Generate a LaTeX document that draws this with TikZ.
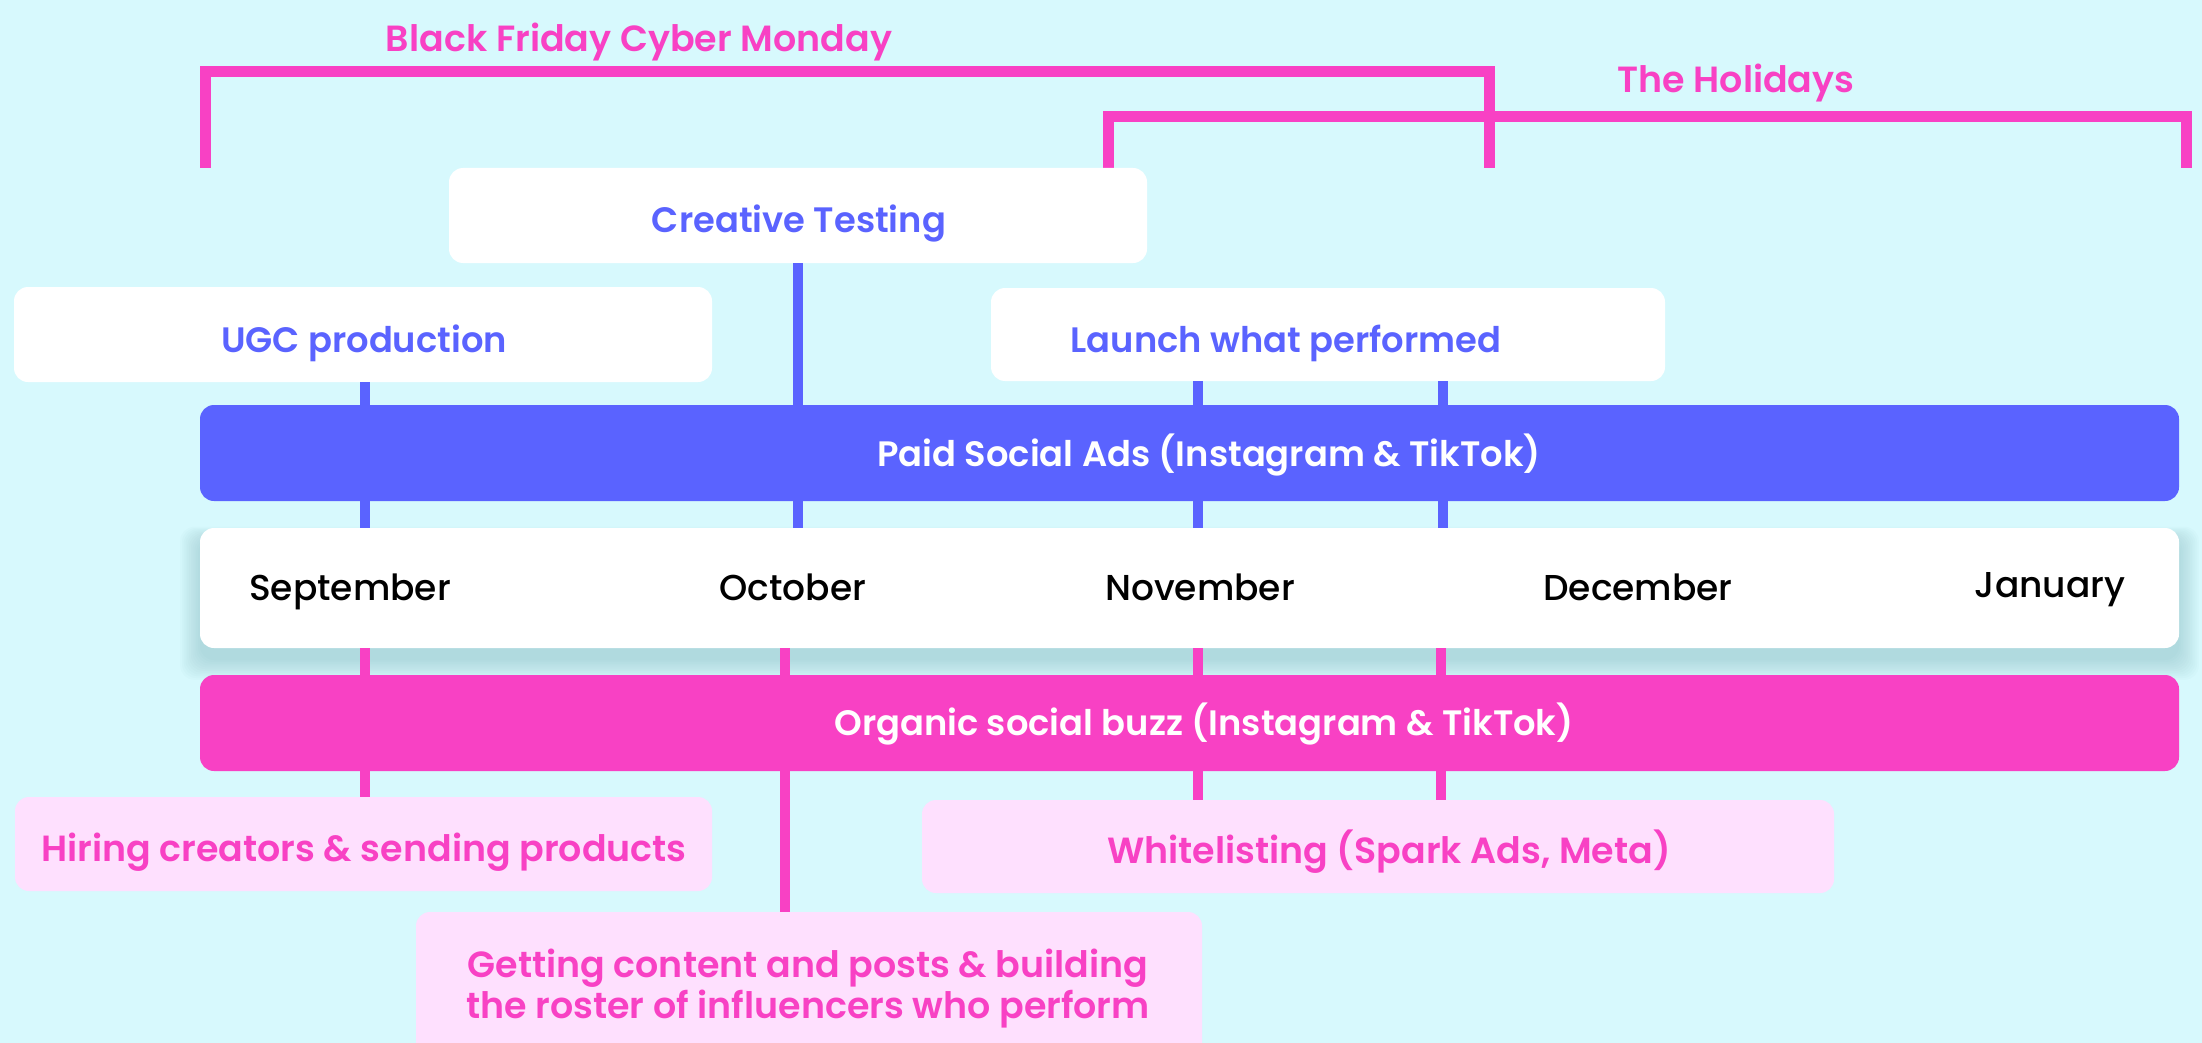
\documentclass[tikz,border=0pt]{standalone}
\usepackage{fontspec}
\setmainfont{Poppins}
\newfontfamily\medfont{Poppins Medium}
\newfontfamily\semifont{Poppins SemiBold}
\usetikzlibrary{calc}
\definecolor{bgcyan}{HTML}{D7F9FD}
\definecolor{brandblue}{HTML}{5A63FF}
\definecolor{brandpink}{HTML}{F841C4}
\definecolor{softpink}{HTML}{FEE0FE}
\definecolor{shadowteal}{HTML}{5E9DA3}
\begin{document}
\begin{tikzpicture}[x=1pt,y=-1pt,
  box/.style={rounded corners=14pt, inner sep=0pt},
  whitebox/.style={box, fill=white},
  pinkbox/.style={box, fill=softpink},
  bluebar/.style={box, fill=brandblue},
  pinkbar/.style={box, fill=brandpink},
  lbl/.style={anchor=base, inner sep=0pt, font=\semifont\fontsize{35.3}{42}\selectfont},
  bluetxt/.style={lbl, text=brandblue},
  pinktxt/.style={lbl, text=brandpink, font=\semifont\fontsize{36.4}{42}\selectfont},
  whitetxt/.style={lbl, text=white},
  monthtxt/.style={anchor=base, inner sep=0pt, text=black, font=\medfont\fontsize{36}{42}\selectfont},
  blueline/.style={draw=brandblue, line width=10pt},
  pinkline/.style={draw=brandpink, line width=10pt},
  bracket/.style={draw=brandpink, line width=11pt, line cap=rect},
]
% page and background
\useasboundingbox (0,0) rectangle (2202,1043);
\fill[bgcyan] (0,0) rectangle (2202,1043);

% season brackets
\draw[bracket] (205,163) -- (205,72) -- (1489,72) -- (1489,163);
\draw[bracket] (1108,163) -- (1108,117) -- (2186,117) -- (2186,163);
\node[pinktxt] (bfcm) at (639,52) {Black Friday Cyber Monday};
\node[pinktxt] (holidays) at (1736,93) {The Holidays};

% upper boxes
\node[whitebox, minimum width=698pt, minimum height=95pt] (creative) at (798,215.5) {};
\node[whitebox, minimum width=698pt, minimum height=95pt] (ugc) at (363,334.5) {};
\node[whitebox, minimum width=674pt, minimum height=93pt] (launch) at (1328,334.5) {};
\node[bluetxt] at (799,232) {Creative Testing};
\node[bluetxt] at (364,352) {UGC production};
\node[bluetxt] at (1286,352) {Launch what performed};

% paid social bar
\node[bluebar, minimum width=1979pt, minimum height=96pt] (paid) at (1189.5,453) {};
\node[whitetxt] at (1209,466) {Paid Social Ads (Instagram \& TikTok)};

% timeline with soft shadow
\foreach \i in {0,2,...,22}{
  \fill[shadowteal, fill opacity=0.028, rounded corners=14pt]
    (200-\i*0.9,540-\i*0.6) rectangle (2179+\i*0.9,660+\i*0.9);
}
\node[whitebox, minimum width=1979pt, minimum height=120pt] (timeline) at (1189.5,588) {};
\node[monthtxt] (sep) at (350,600) {September};
\node[monthtxt] (oct) at (793,600) {October};
\node[monthtxt] (nov) at (1200,600) {November};
\node[monthtxt] (dec) at (1638,600) {December};
\node[monthtxt] (jan) at (2050,597) {January};

% organic social bar
\node[pinkbar, minimum width=1979pt, minimum height=96pt] (organic) at (1189.5,723) {};
\node[whitetxt] at (1204,735) {Organic social buzz (Instagram \& TikTok)};

% lower boxes
\node[pinkbox, minimum width=697pt, minimum height=94pt] (hiring) at (363.5,844) {};
\node[pinkbox, minimum width=912pt, minimum height=93pt] (white) at (1378,846.5) {};
\node[pinkbox, minimum width=786pt, minimum height=160pt] (getting) at (809,992) {};
\node[pinktxt] at (364,861) {Hiring creators \& sending products};
\node[pinktxt] at (1389,863) {Whitelisting (Spark Ads, Meta)};
\node[pinktxt] at (808,977) {Getting content and posts \& building};
\node[pinktxt] at (808,1018) {the roster of influencers who perform};

% connector columns
\coordinate (xa) at (365,0);
\coordinate (xb) at (798,0);
\coordinate (xbp) at (785,0);
\coordinate (xc) at (1198,0);
\coordinate (xd) at (1443,0);
\coordinate (xdp) at (1441,0);

% blue connectors: upper boxes to paid bar, paid bar to timeline
\draw[blueline] (ugc.south -| xa) -- (paid.north -| xa);
\draw[blueline] (creative.south -| xb) -- (paid.north -| xb);
\draw[blueline] (launch.south -| xc) -- (paid.north -| xc);
\draw[blueline] (launch.south -| xd) -- (paid.north -| xd);
\draw[blueline] (paid.south -| xa) -- (timeline.north -| xa);
\draw[blueline] (paid.south -| xb) -- (timeline.north -| xb);
\draw[blueline] (paid.south -| xc) -- (timeline.north -| xc);
\draw[blueline] (paid.south -| xd) -- (timeline.north -| xd);

% pink connectors: timeline to organic bar, organic bar to lower boxes
\draw[pinkline] (timeline.south -| xa) -- (organic.north -| xa);
\draw[pinkline] (timeline.south -| xbp) -- (organic.north -| xbp);
\draw[pinkline] (timeline.south -| xc) -- (organic.north -| xc);
\draw[pinkline] (timeline.south -| xdp) -- (organic.north -| xdp);
\draw[pinkline] (organic.south -| xa) -- (hiring.north -| xa);
\draw[pinkline] (organic.south -| xbp) -- (getting.north -| xbp);
\draw[pinkline] (organic.south -| xc) -- (white.north -| xc);
\draw[pinkline] (organic.south -| xdp) -- (white.north -| xdp);
\end{tikzpicture}
\end{document}
